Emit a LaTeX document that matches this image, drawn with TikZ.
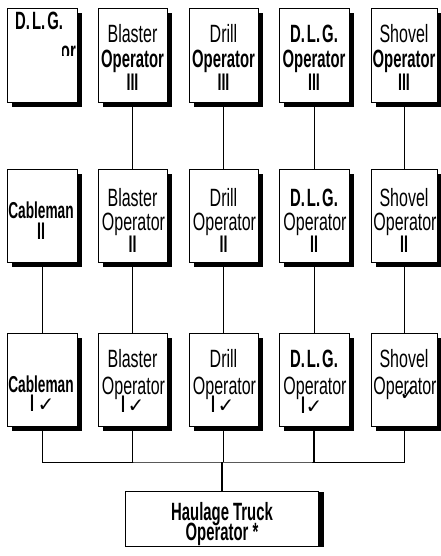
\documentclass[tikz,border=0pt]{standalone}
\usepackage{fontspec}
\setmainfont{Liberation Sans}
\newfontfamily\cn[FakeStretch=0.64]{Liberation Sans}
\newfontfamily\cnb[FakeStretch=0.595,UprightFont={* Bold}]{Liberation Sans}
\newfontfamily\chkfont{DejaVu Sans}
\usetikzlibrary{shadows}
\begin{document}
\begin{tikzpicture}[x=1pt,y=-1pt,
  box/.style={draw, line width=0.8pt, fill=white, inner sep=0pt,
    minimum height=93pt,
    drop shadow={shadow xshift=5pt, shadow yshift=-5pt, fill=black, opacity=1}},
  tr/.style={anchor=base, inner sep=0pt, font=\cn\fontsize{25}{25}\selectfont},
  tb/.style={anchor=base, inner sep=0pt, font=\cnb\fontsize{25}{25}\selectfont},
  tcab/.style={anchor=base, inner sep=0pt, font=\cnb\fontsize{23}{23}\selectfont},
  tn/.style={anchor=base, inner sep=0pt, font=\cnb\fontsize{24}{24}\selectfont},
  tnn/.style={anchor=base, inner sep=0pt, font=\cnb\fontsize{24}{24}\selectfont},
  tc/.style={anchor=base, inner sep=0pt, font=\chkfont\fontsize{20}{20}\selectfont},
  conn/.style={line width=1pt},
  thick conn/.style={line width=1.8pt}]
\useasboundingbox (0,0) rectangle (441,556);

% ---------- row 1 ----------
\node[box, minimum width=70pt, minimum height=94pt] (r11) at (42,55) {};
\node[box, minimum width=69pt, minimum height=94pt] (r12) at (132.5,55) {};
\node[box, minimum width=69pt, minimum height=94pt] (r13) at (223.5,55) {};
\node[box, minimum width=70pt, minimum height=94pt] (r14) at (314,55) {};
\node[box, minimum width=66pt, minimum height=94pt] (r15) at (404,55) {};

\node[tb, anchor=base west] (t11a) at (15,30) {D.\kern2pt L.\kern2pt G.};
\begin{scope}
  \clip (62,41) rectangle (77,56);
  \node[tb, anchor=base east] (t11b) at (76,60) {or};
\end{scope}

\node[tr] (t12a) at (132.5,43) {Blaster};
\node[tb] (t12b) at (132.5,68) {Operator};
\node[tn] (t12c) at (132.5,91) {III};

\node[tr] (t13a) at (223.5,43) {Drill};
\node[tb] (t13b) at (223.5,68) {Operator};
\node[tn] (t13c) at (223.5,91) {III};

\node[tb] (t14a) at (314,43) {D.\kern2pt L.\kern2pt G.};
\node[tb] (t14b) at (314,68) {Operator};
\node[tn] (t14c) at (314,91) {III};

\node[tr] (t15a) at (404,43) {Shovel};
\node[tb] (t15b) at (404,68) {Operator};
\node[tn] (t15c) at (404,91) {III};

% ---------- row 2 ----------
\node[box, minimum width=70pt] (r21) at (42,215.5) {};
\node[box, minimum width=69pt] (r22) at (132.5,215.5) {};
\node[box, minimum width=69pt] (r23) at (223.5,215.5) {};
\node[box, minimum width=70pt] (r24) at (314,215.5) {};
\node[box, minimum width=66pt] (r25) at (404,215.5) {};

\node[tcab] (t21a) at (41,218) {Cableman};
\node[tnn] (t21b) at (41,239) {II};

\node[tr] (t22a) at (132.5,206) {Blaster};
\node[tr] (t22b) at (133.5,230) {Operator};
\node[tnn] (t22c) at (132.5,252) {II};

\node[tr] (t23a) at (223.5,206) {Drill};
\node[tr] (t23b) at (224.5,230) {Operator};
\node[tnn] (t23c) at (223.5,252) {II};

\node[tb] (t24a) at (314,206) {D.\kern2pt L.\kern2pt G.};
\node[tr] (t24b) at (315,230) {Operator};
\node[tnn] (t24c) at (314,252) {II};

\node[tr] (t25a) at (404,206) {Shovel};
\node[tr] (t25b) at (405,230) {Operator};
\node[tnn] (t25c) at (404,252) {II};

% ---------- row 3 ----------
\node[box, minimum width=70pt] (r31) at (42,379.5) {};
\node[box, minimum width=69pt] (r32) at (132.5,379.5) {};
\node[box, minimum width=69pt] (r33) at (223.5,379.5) {};
\node[box, minimum width=70pt] (r34) at (314,379.5) {};
\node[box, minimum width=66pt] (r35) at (404,379.5) {};

\node[tcab] (t31a) at (41,392) {Cableman};
\node[tnn] (t31b) at (32,411) {I};
\node[tc] (t31c) at (46,411) {✓};

\node[tr] (t32a) at (132.5,367) {Blaster};
\node[tr] (t32b) at (133.5,394) {Operator};
\node[tnn] (t32c) at (123,412) {I};
\node[tc] (t32d) at (136,412) {✓};

\node[tr] (t33a) at (223.5,367) {Drill};
\node[tr] (t33b) at (224.5,394) {Operator};
\node[tnn] (t33c) at (213,412) {I};
\node[tc] (t33d) at (226,412) {✓};

\node[tb] (t34a) at (314,367) {D.\kern2pt L.\kern2pt G.};
\node[tr] (t34b) at (315,394) {Operator};
\node[tnn] (t34c) at (303,413) {I};
\node[tc] (t34d) at (314,413) {✓};

\node[tr] (t35a) at (404,367) {Shovel};
\node[tr] (t35b) at (405,394) {Operator};
\node[tc] (t35c) at (408,400) {✓};

% ---------- haulage ----------
\node[draw, line width=0.8pt, fill=white, inner sep=0pt,
  minimum width=193pt, minimum height=55pt,
  drop shadow={shadow xshift=5pt, shadow yshift=-1pt, fill=black, opacity=1}]
  (haul) at (222,518.5) {};
\node[tb] (th1) at (222,520) {Haulage Truck};
\node[tb] (th2) at (222,540) {Operator *};

% ---------- connectors ----------
\draw[thick conn] (r12.south) -- (r22.north);
\draw[conn] (r13.south) -- (r23.north);
\draw[conn] (r14.south) -- (r24.north);
\draw[conn] (r15.south) -- (r25.north);

\draw[conn] (r21.south) -- (r31.north);
\draw[conn] (r22.south) -- (r32.north);
\draw[conn] (r23.south) -- (r33.north);
\draw[conn] (r24.south) -- (r34.north);
\draw[conn] (r25.south) -- (r35.north);

\coordinate (bus) at (222,462);
\draw[conn] (r31.south) |- (bus) -| (r35.south);
\draw[thick conn] (r32.south) -- (r32.south |- bus);
\draw[conn] (r33.south) -- (r33.south |- bus);
\draw[thick conn] (r34.south) -- (r34.south |- bus);
\draw[thick conn] (bus) -- (haul.north);
\end{tikzpicture}
\end{document}
